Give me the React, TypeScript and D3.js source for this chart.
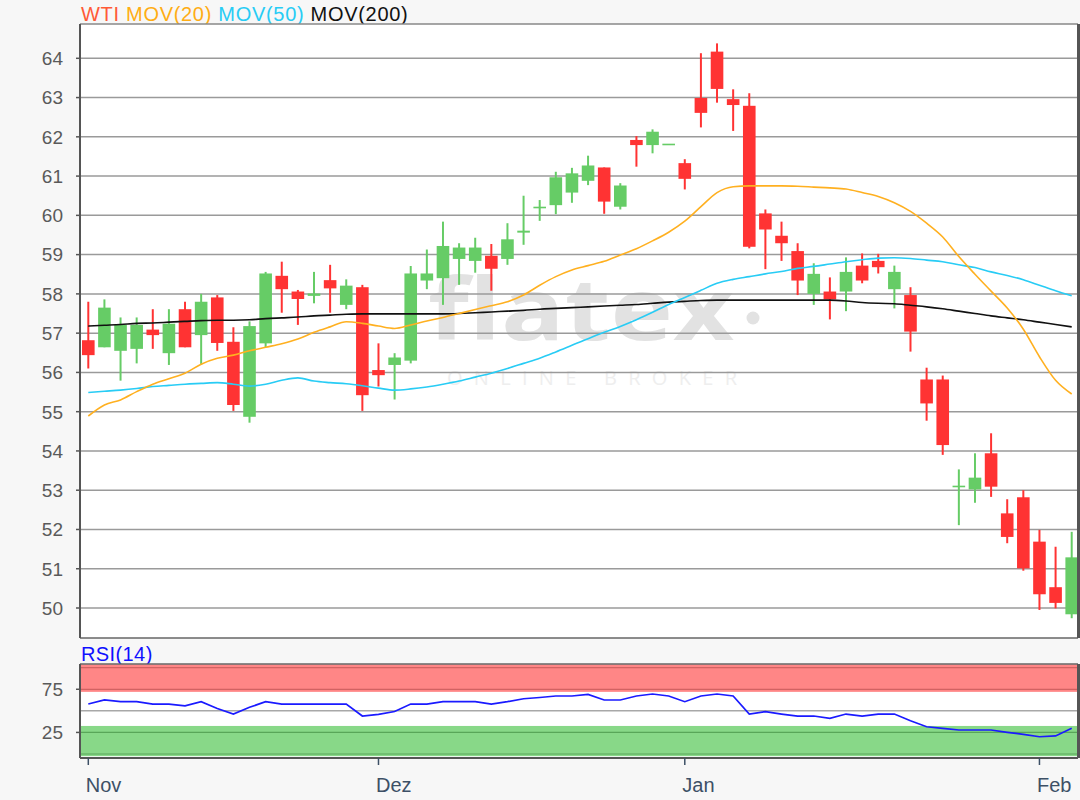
import React from "react";
import * as d3 from "d3";

// ---- Data ----
const OPEN = [56.82,56.64,56.55,56.60,57.09,56.49,57.61,56.95,57.91,56.78,54.87,56.74,58.46,58.06,57.95,58.35,57.72,58.17,56.06,56.19,56.30,58.34,58.40,58.89,58.84,58.97,58.89,59.56,60.18,60.26,60.58,60.88,61.22,60.22,61.92,61.79,61.80,61.33,62.99,64.17,62.96,62.79,60.05,59.48,59.09,58.00,58.06,58.06,58.72,58.84,58.12,57.97,55.82,55.82,53.09,53.02,53.94,52.41,52.82,51.69,50.53,49.84];
const HIGH = [57.80,57.86,57.40,57.40,57.61,57.61,57.80,58.00,57.97,57.15,57.30,58.56,58.82,58.10,58.56,58.74,58.37,58.23,56.74,56.49,58.71,59.13,59.84,59.29,59.43,59.27,59.80,60.50,60.39,61.11,61.21,61.52,61.22,60.82,62.02,62.19,61.80,61.43,64.13,64.38,63.21,63.11,60.15,59.84,59.29,58.78,58.42,58.93,59.03,59.02,58.72,58.17,56.12,55.92,53.53,53.94,54.45,52.77,53.00,51.99,51.56,51.94];
const LOW = [56.10,56.64,55.79,56.23,56.60,56.19,56.64,56.19,56.55,55.02,54.72,56.64,57.52,57.21,57.76,57.52,57.61,55.02,55.64,55.31,56.23,58.12,57.72,58.23,58.54,58.08,58.74,59.25,59.86,60.03,60.32,60.77,60.04,60.15,61.24,61.58,61.80,60.66,62.24,62.87,62.15,59.16,58.63,58.84,57.97,57.72,57.35,57.56,58.27,58.52,57.63,56.53,54.77,53.90,52.11,52.68,52.83,51.65,50.95,49.95,49.99,49.74];
const CLOSE = [56.44,57.65,57.21,57.21,56.95,57.24,56.64,57.80,56.75,55.17,57.18,58.52,58.12,57.87,58.01,58.14,58.21,55.42,55.93,56.38,58.52,58.52,59.22,59.18,59.18,58.64,59.39,59.61,60.22,60.97,61.07,61.27,60.35,60.76,61.79,62.13,61.81,60.93,62.61,63.22,62.81,59.20,59.64,59.29,58.34,58.51,57.86,58.56,58.34,58.68,58.56,57.04,55.21,54.15,53.10,53.32,53.09,51.81,51.01,50.35,50.13,51.29];

const MA20 = [54.89,55.17,55.30,55.51,55.70,55.84,55.98,56.21,56.36,56.44,56.55,56.64,56.73,56.85,57.02,57.16,57.29,57.25,57.18,57.12,57.21,57.31,57.40,57.50,57.60,57.70,57.80,57.97,58.22,58.44,58.61,58.72,58.83,58.99,59.15,59.35,59.57,59.85,60.22,60.58,60.73,60.75,60.75,60.75,60.74,60.72,60.70,60.67,60.58,60.48,60.32,60.10,59.80,59.45,58.95,58.50,58.07,57.64,57.10,56.40,55.80,55.45];
const MA50 = [55.49,55.52,55.55,55.59,55.64,55.67,55.70,55.72,55.74,55.70,55.65,55.70,55.80,55.86,55.78,55.74,55.71,55.66,55.60,55.55,55.58,55.63,55.70,55.78,55.88,55.98,56.10,56.23,56.36,56.52,56.69,56.86,57.02,57.17,57.34,57.53,57.73,57.91,58.09,58.27,58.37,58.44,58.51,58.57,58.65,58.70,58.76,58.82,58.87,58.91,58.92,58.90,58.86,58.82,58.74,58.67,58.56,58.47,58.36,58.22,58.08,57.95];
const MA200 = [57.18,57.20,57.22,57.25,57.26,57.28,57.30,57.32,57.33,57.33,57.34,57.37,57.39,57.41,57.44,57.46,57.48,57.49,57.49,57.49,57.49,57.49,57.49,57.50,57.52,57.54,57.56,57.58,57.61,57.63,57.65,57.67,57.69,57.71,57.73,57.76,57.79,57.81,57.83,57.84,57.84,57.84,57.84,57.84,57.84,57.84,57.84,57.82,57.78,57.76,57.75,57.71,57.67,57.62,57.56,57.50,57.44,57.39,57.34,57.28,57.22,57.16];
const RSI14 = [57.9,62.6,60.6,60.6,57.9,57.9,55.8,60.6,52.7,46.3,54.1,60.6,57.9,57.9,57.9,57.9,57.9,44.0,46.0,49.2,57.9,57.9,60.6,60.6,60.6,57.9,60.6,64.0,65.5,67.2,67.2,69.0,62.6,62.6,67.2,69.5,67.2,60.6,67.2,69.5,67.2,46.3,49.0,46.3,44.0,44.0,41.4,46.3,44.0,46.3,46.3,38.6,31.6,29.8,27.8,27.8,27.8,25.1,22.8,20.0,20.9,29.8];

const PRICE_TICKS = [50,51,52,53,54,55,56,57,58,59,60,61,62,63,64];
const RSI_TICKS = [25, 75];
const RSI_BANDS = [
  { lo: 72, hi: 104, fill: "#ff8686", line: [75, 100] },
  { lo: -2.5, hi: 32.5, fill: "#88d888", line: [0, 25] },
];
const MONTHS = ["Nov", "Dez", "Jan", "Feb"];
const MONTH_POS = [0, 18, 37, 59];

const LEGEND = [
  { label: "WTI", color: "#ff5a36" },
  { label: "MOV(20)", color: "#ffad14" },
  { label: "MOV(50)", color: "#28ccf5" },
  { label: "MOV(200)", color: "#111111" },
];

const FONT = "'Liberation Sans', Arial, sans-serif";

export default function App() {
  const n = CLOSE.length;
  const x = d3.scaleLinear().domain([0, n - 1]).range([88.3, 1071.7]);
  const y = d3.scaleLinear().domain([50, 64]).range([608, 58.3]);
  const ry = d3.scaleLinear().domain([0, 100]).range([754, 667.7]);

  const plotL = 80, plotR = 1078, plotT = 24, plotB = 638;
  const rsiT = 664, rsiB = 758;
  const bodyW = 12.6;

  const maLine = d3.line<number>().x((_, i) => x(i)).y((d) => y(d)).curve(d3.curveMonotoneX);
  const rsiLine = d3.line<number>().x((_, i) => x(i)).y((d) => ry(d));

  const red = "#ff3333";
  const green = "#66cc66";

  return (
    <svg width={1080} height={800} style={{ position: "absolute", left: 0, top: 0, background: "#f7f7f7" }} fontFamily={FONT}>
      <rect x={0} y={0} width={1080} height={800} fill="#f7f7f7" />
      {/* Legend */}
      <text x={81} y={21} fontSize={20} letterSpacing={0.7}>
        {LEGEND.map((l, i) => (
          <tspan key={l.label} fill={l.color}>{(i > 0 ? " " : "") + l.label}</tspan>
        ))}
      </text>

      {/* Main plot */}
      <rect x={plotL} y={plotT} width={plotR - plotL} height={plotB - plotT} fill="#ffffff" />
      <defs>
        <clipPath id="mainclip">
          <rect x={plotL} y={plotT} width={plotR - plotL} height={plotB - plotT} />
        </clipPath>
      </defs>
      {/* Watermark */}
      <g>
        <text x={428} y={340} fontSize={86} fontWeight="bold" fill="#e2e2e2" textLength={306} lengthAdjust="spacingAndGlyphs" fontFamily="'Open Sans', 'Noto Sans', sans-serif">flatex</text>
        <circle cx={753} cy={318} r={6.5} fill="#e2e2e2" />
        <text x={447} y={385} fontSize={20} fill="#eeeeee" textLength={290} lengthAdjust="spacing" fontFamily="'Open Sans', sans-serif">ONLINE BROKER</text>
      </g>
      {/* Grid + y ticks */}
      {PRICE_TICKS.map((t) => (
        <g key={t}>
          <line x1={plotL} x2={plotR} y1={y(t)} y2={y(t)} stroke="#9a9a9a" strokeWidth={1.5} />
          <line x1={76} x2={plotL} y1={y(t)} y2={y(t)} stroke="#555" strokeWidth={1.5} />
          <text x={63} y={y(t)} dy="0.36em" textAnchor="end" fontSize={19} fill="#5a5a5a">{t}</text>
        </g>
      ))}
      {/* Candles */}
      <g clipPath="url(#mainclip)">
        {CLOSE.map((c, i) => {
          const o = OPEN[i];
          const up = c >= o;
          const col = up ? green : red;
          const top = y(Math.max(o, c));
          const bot = y(Math.min(o, c));
          const h = Math.max(bot - top, 1.6);
          return (
            <g key={i}>
              <line x1={x(i)} x2={x(i)} y1={y(HIGH[i])} y2={y(LOW[i])} stroke={col} strokeWidth={2} />
              <rect x={x(i) - bodyW / 2} y={h === 1.6 ? (top + bot) / 2 - 0.8 : top} width={bodyW} height={h} fill={col} />
            </g>
          );
        })}
        <path d={maLine(MA200) || ""} fill="none" stroke="#111" strokeWidth={1.6} />
        <path d={maLine(MA50) || ""} fill="none" stroke="#28ccf5" strokeWidth={1.6} />
        <path d={maLine(MA20) || ""} fill="none" stroke="#ffb020" strokeWidth={1.6} />
      </g>
      {/* Frame */}
      <line x1={plotL} x2={plotR} y1={plotT} y2={plotT} stroke="#888" strokeWidth={1.5} />
      <line x1={plotL} x2={plotR} y1={plotB} y2={plotB} stroke="#666" strokeWidth={1.5} />
      <line x1={plotL} x2={plotL} y1={plotT} y2={plotB} stroke="#555" strokeWidth={2} />
      <line x1={plotR + 0.5} x2={plotR + 0.5} y1={plotT} y2={plotB} stroke="#555" strokeWidth={3} />

      {/* RSI panel */}
      <text x={81} y={661} fontSize={20} fill="#1010ff" letterSpacing={0.4}>RSI(14)</text>
      <rect x={plotL} y={rsiT} width={plotR - plotL} height={rsiB - rsiT} fill="#ffffff" />
      {RSI_BANDS.map((b, i) => (
        <g key={i}>
          <rect x={plotL} y={Math.max(ry(b.hi), rsiT)} width={plotR - plotL} height={Math.min(ry(b.lo), rsiB) - Math.max(ry(b.hi), rsiT)} fill={b.fill} />
          {b.line.map((v) => (
            <line key={v} x1={plotL} x2={plotR} y1={ry(v)} y2={ry(v)} stroke={i === 0 ? "#c85a5a" : "#4e9a4e"} strokeWidth={1.2} opacity={0.8} />
          ))}
        </g>
      ))}
      <line x1={plotL} x2={plotR} y1={ry(50)} y2={ry(50)} stroke="#a8a8a8" strokeWidth={1.5} />
      <path d={rsiLine(RSI14) || ""} fill="none" stroke="#1a1aff" strokeWidth={1.7} />
      {RSI_TICKS.map((t) => (
        <g key={t}>
          <line x1={76} x2={plotL} y1={ry(t)} y2={ry(t)} stroke="#555" strokeWidth={1.5} />
          <text x={63} y={ry(t)} dy="0.36em" textAnchor="end" fontSize={19} fill="#5a5a5a">{t}</text>
        </g>
      ))}
      <line x1={plotL} x2={plotR} y1={rsiT} y2={rsiT} stroke="#666" strokeWidth={1.5} />
      <line x1={plotL} x2={plotR} y1={rsiB} y2={rsiB} stroke="#555" strokeWidth={2} />
      <line x1={plotL} x2={plotL} y1={rsiT} y2={rsiB} stroke="#555" strokeWidth={2} />
      <line x1={plotR + 0.5} x2={plotR + 0.5} y1={rsiT} y2={rsiB} stroke="#555" strokeWidth={3} />

      {/* X axis */}
      {MONTHS.map((m, i) => {
        const px = x(MONTH_POS[i]);
        return (
          <g key={m}>
            <line x1={px} x2={px} y1={rsiB} y2={rsiB + 7} stroke="#3d5066" strokeWidth={1.5} />
            <text x={px - 2.5} y={792} fontSize={20} fill="#3d5066">{m}</text>
          </g>
        );
      })}
    </svg>
  );
}
